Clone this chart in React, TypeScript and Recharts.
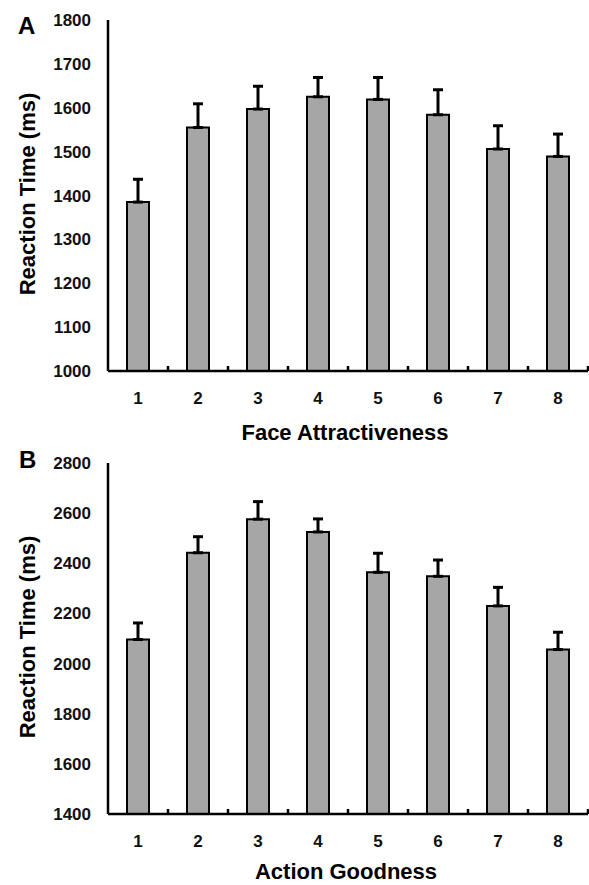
import { BarChart, Bar, XAxis, YAxis, ErrorBar } from 'recharts'

// levels 1..8 on both panels
const levels = [1, 2, 3, 4, 5, 6, 7, 8]
const faceRT = [1385, 1555, 1597, 1625, 1619, 1584, 1506, 1489]
const faceErr = [52, 54, 52, 44, 50, 57, 53, 51]
const actionRT = [2096, 2442, 2576, 2525, 2364, 2348, 2230, 2056]
const actionErr = [66, 64, 70, 52, 76, 65, 74, 69]
const faceTicks = [1000, 1100, 1200, 1300, 1400, 1500, 1600, 1700, 1800]
const actionTicks = [1400, 1600, 1800, 2000, 2200, 2400, 2600, 2800]
const boundaries = [1.5, 2.5, 3.5, 4.5, 5.5, 6.5, 7.5, 8.5]

const FONT = '"Liberation Sans", Arial, sans-serif'
const W = 589
const H = 415

function Panel({ values, errs, ticks, top }: { values: number[]; errs: number[]; ticks: number[]; top: number }) {
  const data = levels.map((lv, i) => ({ lv, rt: values[i], err: [0, errs[i]] }))
  const tickStyle = { fontSize: 17, fontWeight: 700, fill: '#111', fontFamily: FONT }
  return (
    <div style={{ position: 'absolute', left: 0, top }}>
      <BarChart width={W} height={H} data={data} margin={{ top: 20, right: 1, bottom: 0, left: 0 }}>
        <XAxis xAxisId="b" type="number" dataKey="lv" domain={[0.5, 8.5]} ticks={boundaries} height={1}
          mirror tickSize={5} tickFormatter={() => ''} axisLine={{ stroke: '#000', strokeWidth: 2.5 }}
          tickLine={{ stroke: '#000', strokeWidth: 2.5 }} allowDataOverflow />
        <XAxis xAxisId="a" type="number" dataKey="lv" domain={[0.5, 8.5]} ticks={levels} height={44}
          axisLine={false} tickLine={false} tickSize={0} tickMargin={21} tick={tickStyle} allowDataOverflow />
        <YAxis type="number" domain={[ticks[0], ticks[ticks.length - 1]]} ticks={ticks} width={108}
          axisLine={{ stroke: '#000', strokeWidth: 2.5 }} tickLine={false} tickSize={0} tickMargin={17}
          tick={tickStyle} allowDataOverflow />
        <Bar xAxisId="a" dataKey="rt" barSize={22} fill="#a6a6a6" stroke="#000" strokeWidth={2} isAnimationActive={false}>
          <ErrorBar dataKey="err" direction="y" width={5} stroke="#000" strokeWidth={3} />
        </Bar>
      </BarChart>
    </div>
  )
}

export default function App() {
  const textStyle = { fontFamily: FONT, fontWeight: 700, fill: '#000' }
  return (
    <div style={{ position: 'absolute', left: 0, top: 0, width: W, height: 885, background: '#fff' }}>
      <Panel values={faceRT} errs={faceErr} ticks={faceTicks} top={0} />
      <Panel values={actionRT} errs={actionErr} ticks={actionTicks} top={443} />
      <svg width={W} height={885} style={{ position: 'absolute', left: 0, top: 0, pointerEvents: 'none' }}>
        <text x={18} y={34} fontSize={24} style={textStyle}>A</text>
        <text x={19} y={468} fontSize={24} style={textStyle}>B</text>
        <text x={35} y={194} fontSize={22} textAnchor="middle" transform="rotate(-90 35 194)" style={textStyle}>Reaction Time (ms)</text>
        <text x={35} y={637} fontSize={22} textAnchor="middle" transform="rotate(-90 35 637)" style={textStyle}>Reaction Time (ms)</text>
        <text x={345} y={440} fontSize={22} textAnchor="middle" style={textStyle}>Face Attractiveness</text>
        <text x={346} y={879} fontSize={22} textAnchor="middle" style={textStyle}>Action Goodness</text>
      </svg>
    </div>
  )
}
